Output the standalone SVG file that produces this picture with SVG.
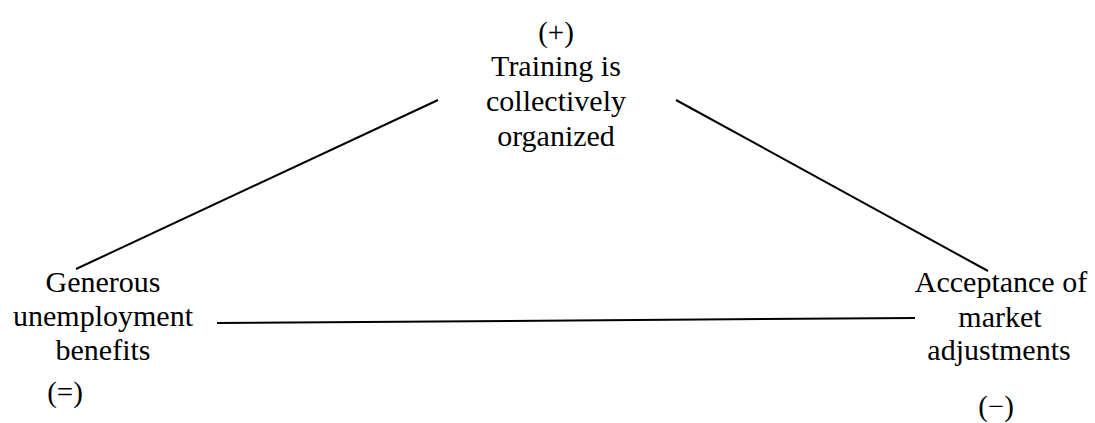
<svg xmlns="http://www.w3.org/2000/svg" width="1095" height="423" viewBox="0 0 1095 423">
<style>
text{font-family:'Liberation Serif','Tinos','Noto Serif','FreeSerif','Times New Roman','Times','DejaVu Serif',serif;fill:#000;text-anchor:middle}
.lbl{font-size:30px}
.sgn{font-size:29px}
.edge{stroke:#000;stroke-width:2;fill:none}
</style>
<rect width="1095" height="423" fill="#fff"/>
<g id="connectors">
<line class="edge" x1="438" y1="100" x2="76" y2="269"/>
<line class="edge" x1="676" y1="100" x2="988" y2="271"/>
<line class="edge" x1="217" y1="323" x2="915" y2="318"/>
</g>
<g id="node-training">
<text class="sgn" x="556" y="42">(+)</text>
<text class="lbl" x="556" y="76">Training is</text>
<text class="lbl" x="556" y="111">collectively</text>
<text class="lbl" x="556" y="146">organized</text>
</g>
<g id="node-benefits">
<text class="lbl" x="103" y="292">Generous</text>
<text class="lbl" x="103" y="326">unemployment</text>
<text class="lbl" x="103" y="360">benefits</text>
<text class="sgn" x="65" y="402">(=)</text>
</g>
<g id="node-market">
<text class="lbl" x="1001" y="292">Acceptance of</text>
<text class="lbl" x="1000" y="327">market</text>
<text class="lbl" x="999" y="360">adjustments</text>
<text class="sgn" x="996" y="416">(−)</text>
</g>
</svg>
